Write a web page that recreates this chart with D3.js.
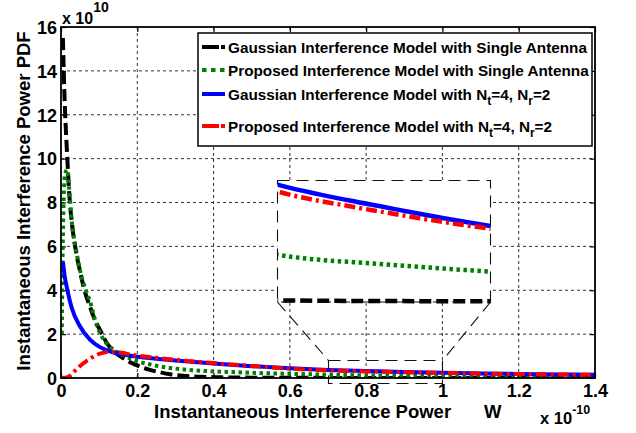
<!DOCTYPE html>
<html>
<head>
<meta charset="utf-8">
<script src="https://cdn.jsdelivr.net/npm/d3@7"></script>
<style>
  body { margin: 0; background: #fff; }
  text { font-family: "Liberation Sans", Arial, sans-serif; font-weight: bold; fill: #000; }
</style>
</head>
<body>
<svg id="chart" width="636" height="433"></svg>
<script>
// x values are in units of 1e-10 W, y values in units of 1e10
const xTicks = [0, 0.2, 0.4, 0.6, 0.8, 1, 1.2, 1.4];
const xTickLabels = ['0', '0.2', '0.4', '0.6', '0.8', '1', '1.2', '1.4'];
const yTicks = [0, 2, 4, 6, 8, 10, 12, 14, 16];
const yTickLabels = ['0', '2', '4', '6', '8', '10', '12', '14', '16'];

// Gaussian interference model, single antenna
const gaussSingleX = [0.005, 0.008, 0.012, 0.016, 0.022, 0.029, 0.04, 0.05, 0.065, 0.076, 0.09, 0.102, 0.115, 0.128, 0.155, 0.18, 0.21, 0.233, 0.26, 0.286, 0.32, 0.36, 0.42, 0.5, 0.6, 0.7, 0.85, 1.0, 1.2, 1.4];
const gaussSingleY = [15.5, 13.5, 11.6, 10.2, 8.3, 7.0, 5.7, 4.85, 3.8, 3.25, 2.6, 2.2, 1.75, 1.4, 1.0, 0.73, 0.5, 0.37, 0.26, 0.17, 0.1, 0.06, 0.03, 0.015, 0.008, 0.005, 0.003, 0.002, 0.001, 0.001];

// Proposed interference model, single antenna
const propSingleX = [0.002, 0.005, 0.01, 0.016, 0.021, 0.029, 0.04, 0.05, 0.065, 0.076, 0.09, 0.11, 0.13, 0.155, 0.18, 0.2, 0.233, 0.286, 0.35, 0.45, 0.55, 0.63, 0.7, 0.85, 1.0, 1.2, 1.4];
const propSingleY = [2.0, 6.5, 9.2, 9.5, 8.7, 7.0, 5.8, 4.9, 4.0, 3.5, 2.6, 1.8, 1.4, 1.1, 0.9, 0.77, 0.62, 0.46, 0.35, 0.27, 0.21, 0.18, 0.148, 0.118, 0.095, 0.07, 0.055];

// Gaussian interference model, Nt=4, Nr=2
const gaussMimoX = [0.005, 0.01, 0.015, 0.028, 0.05, 0.076, 0.1, 0.128, 0.16, 0.2, 0.25, 0.3, 0.35, 0.4, 0.5, 0.6, 0.7, 0.8, 0.85, 0.9, 1.0, 1.1, 1.2, 1.3, 1.4];
const gaussMimoY = [5.3, 4.6, 4.15, 3.2, 2.35, 1.75, 1.43, 1.22, 1.08, 0.97, 0.88, 0.8, 0.73, 0.66, 0.54, 0.44, 0.367, 0.318, 0.297, 0.276, 0.238, 0.21, 0.185, 0.165, 0.15];

// Proposed interference model, Nt=4, Nr=2
const propMimoX = [0, 0.015, 0.025, 0.035, 0.05, 0.065, 0.08, 0.1, 0.12, 0.14, 0.16, 0.18, 0.2, 0.25, 0.3, 0.35, 0.4, 0.5, 0.6, 0.7, 0.8, 0.85, 0.9, 1.0, 1.1, 1.2, 1.3, 1.4];
const propMimoY = [0, 0.02, 0.12, 0.3, 0.55, 0.75, 0.92, 1.1, 1.18, 1.2, 1.15, 1.08, 1.02, 0.92, 0.83, 0.75, 0.68, 0.55, 0.43, 0.346, 0.3, 0.281, 0.262, 0.229, 0.2, 0.18, 0.16, 0.145];

const legendLabels = [
    'Gaussian Interference Model with Single Antenna',
    'Proposed Interference Model with Single Antenna',
    'Gaussian Interference Model with N_t=4, N_r=2',
    'Proposed Interference Model with N_t=4, N_r=2'
];

// Zoomed window shown in the inset
const zoomX = [0.7, 1.0];
const zoomY = [-0.22, 0.82];
const insetY = [0, 0.38];

const series = [
    { xs: gaussSingleX, ys: gaussSingleY, color: '#000000', dash: '12,5', legendDash: '17,2' },
    { xs: propSingleX, ys: propSingleY, color: '#007f00', dash: '3.5,3.5', legendDash: '4.5,4.5' },
    { xs: gaussMimoX, ys: gaussMimoY, color: '#0000ff', dash: null, legendDash: null },
    { xs: propMimoX, ys: propMimoY, color: '#ff0000', dash: '11,4,3,4', legendDash: '17,2' }
];

const svg = d3.select('#chart');
const plotLeft = 61, plotRight = 595, plotTop = 27, plotBottom = 378;

const x = d3.scaleLinear().domain([0, 1.4]).range([plotLeft, plotRight]);
const y = d3.scaleLinear().domain([0, 16]).range([plotBottom, plotTop]);

// Grid lines
const grid = svg.append('g')
    .attr('stroke', '#333')
    .attr('stroke-width', 1)
    .attr('stroke-dasharray', '3,3');
grid.selectAll('.gx').data(xTicks.slice(1, -1)).join('line')
    .attr('x1', d => x(d)).attr('x2', d => x(d))
    .attr('y1', plotTop).attr('y2', plotBottom);
grid.selectAll('.gy').data(yTicks.slice(1, -1)).join('line')
    .attr('x1', plotLeft).attr('x2', plotRight)
    .attr('y1', d => y(d)).attr('y2', d => y(d));

// Axes with inward ticks on all four sides
const tickLen = 5;
const axisBottom = svg.append('g').attr('transform', `translate(0,${plotBottom})`)
    .call(d3.axisBottom(x).tickValues(xTicks).tickSizeInner(-tickLen).tickSizeOuter(0)
        .tickFormat((d, i) => xTickLabels[i]));
const axisTop = svg.append('g').attr('transform', `translate(0,${plotTop})`)
    .call(d3.axisTop(x).tickValues(xTicks).tickSizeInner(-tickLen).tickSizeOuter(0).tickFormat(''));
const axisLeft = svg.append('g').attr('transform', `translate(${plotLeft},0)`)
    .call(d3.axisLeft(y).tickValues(yTicks).tickSizeInner(-tickLen).tickSizeOuter(0)
        .tickFormat((d, i) => yTickLabels[i]));
const axisRight = svg.append('g').attr('transform', `translate(${plotRight},0)`)
    .call(d3.axisRight(y).tickValues(yTicks).tickSizeInner(-tickLen).tickSizeOuter(0).tickFormat(''));

[axisBottom, axisTop, axisLeft, axisRight].forEach(a => {
    a.attr('font-family', null).attr('font-size', null);
    a.select('.domain').remove();
    a.selectAll('line').attr('stroke', '#000').attr('stroke-width', 1.2);
});
axisBottom.selectAll('text')
    .attr('font-size', 18).attr('dy', null)
    .attr('y', 19);
axisLeft.selectAll('text')
    .attr('font-size', 18).attr('dy', '0.35em')
    .attr('x', -4);

// Clip for main curves
svg.append('clipPath').attr('id', 'plotClip')
    .append('rect').attr('x', plotLeft).attr('y', plotTop)
    .attr('width', plotRight - plotLeft).attr('height', plotBottom - plotTop);

function drawSeries(g, sx, sy, width) {
    const line = d3.line()
        .x(d => sx(d[0]))
        .y(d => sy(d[1]))
        .curve(d3.curveMonotoneX);
    series.forEach(s => {
        const pts = s.xs.map((v, i) => [v, s.ys[i]]);
        g.append('path')
            .attr('d', line(pts))
            .attr('fill', 'none')
            .attr('stroke', s.color)
            .attr('stroke-width', width)
            .attr('stroke-dasharray', s.dash);
    });
}

const curves = svg.append('g').attr('clip-path', 'url(#plotClip)');
drawSeries(curves, x, y, 4);

// Zoom source rectangle and connectors
const insetBox = { x0: 277.5, x1: 490.5, y0: 180.5, y1: 302 };
const zoomRect = {
    x0: Math.round(x(zoomX[0])) + 0.5, x1: Math.round(x(zoomX[1])) + 0.5,
    y0: Math.round(y(zoomY[1])) + 0.5, y1: Math.round(y(zoomY[0])) + 0.5
};
const zoomStyle = g => g.attr('fill', 'none').attr('stroke', '#111')
    .attr('stroke-width', 1.1).attr('stroke-dasharray', '12,7');

svg.append('rect')
    .attr('x', zoomRect.x0).attr('y', zoomRect.y0)
    .attr('width', zoomRect.x1 - zoomRect.x0).attr('height', zoomRect.y1 - zoomRect.y0)
    .call(zoomStyle);
svg.append('line')
    .attr('x1', insetBox.x0).attr('y1', insetBox.y1)
    .attr('x2', zoomRect.x0).attr('y2', zoomRect.y0)
    .call(zoomStyle);
svg.append('line')
    .attr('x1', insetBox.x1).attr('y1', insetBox.y1)
    .attr('x2', zoomRect.x1).attr('y2', zoomRect.y0)
    .call(zoomStyle);

// Inset: magnified view of the tails
svg.append('rect')
    .attr('x', insetBox.x0).attr('y', insetBox.y0)
    .attr('width', insetBox.x1 - insetBox.x0).attr('height', insetBox.y1 - insetBox.y0)
    .attr('fill', '#fff');
svg.append('clipPath').attr('id', 'insetClip')
    .append('rect').attr('x', insetBox.x0).attr('y', insetBox.y0 - 3)
    .attr('width', insetBox.x1 - insetBox.x0).attr('height', insetBox.y1 - insetBox.y0 + 6);

const ix = d3.scaleLinear().domain(zoomX).range([insetBox.x0, insetBox.x1]);
const iy = d3.scaleLinear().domain(insetY).range([insetBox.y1, insetBox.y0]);
const insetCurves = svg.append('g').attr('clip-path', 'url(#insetClip)');
drawSeries(insetCurves, ix, iy, 4.5);

svg.append('rect')
    .attr('x', insetBox.x0).attr('y', insetBox.y0)
    .attr('width', insetBox.x1 - insetBox.x0).attr('height', insetBox.y1 - insetBox.y0)
    .call(zoomStyle);

// Plot frame
svg.append('rect')
    .attr('x', plotLeft).attr('y', plotTop)
    .attr('width', plotRight - plotLeft).attr('height', plotBottom - plotTop)
    .attr('fill', 'none').attr('stroke', '#000').attr('stroke-width', 1.8);

// Legend
const legend = svg.append('g');
legend.append('rect')
    .attr('x', 198).attr('y', 33).attr('width', 394).attr('height', 113)
    .attr('fill', '#fff').attr('stroke', '#000').attr('stroke-width', 1.5);
const legendRows = [47, 70, 94, 126];
legendLabels.forEach((label, i) => {
    const s = series[i];
    const ly = legendRows[i];
    legend.append('line')
        .attr('x1', 202).attr('x2', 225).attr('y1', ly).attr('y2', ly)
        .attr('stroke', s.color).attr('stroke-width', 4)
        .attr('stroke-dasharray', s.legendDash);
    const t = legend.append('text')
        .attr('x', 228).attr('y', ly + 5.5)
        .attr('font-size', 15.3);
    // "_t" and "_r" mark subscripts
    const parts = label.split(/_(\w)/);
    parts.forEach((p, k) => {
        if (k % 2 === 0) {
            t.append('tspan').attr('dy', k === 0 ? 0 : -5).text(p);
        } else {
            t.append('tspan').attr('dy', 5).attr('font-size', 12).text(p);
        }
    });
});

// Axis labels
svg.append('text')
    .attr('transform', 'translate(30,201) rotate(-90)')
    .attr('text-anchor', 'middle')
    .attr('font-size', 18.5)
    .text('Instantaneous Interference Power PDF');

const xl = svg.append('text')
    .attr('x', 154).attr('y', 418)
    .attr('font-size', 18.5);
xl.append('tspan').text('Instantaneous Interference Power');
xl.append('tspan').attr('x', 484).text('W');

// Exponent labels
const expTop = svg.append('text').attr('x', 62).attr('y', 24).attr('font-size', 16);
expTop.append('tspan').text('x 10');
expTop.append('tspan').attr('dy', -12).attr('font-size', 14).text('10');

const expBottom = svg.append('text').attr('x', 540).attr('y', 424).attr('font-size', 16.5);
expBottom.append('tspan').text('x 10');
expBottom.append('tspan').attr('dy', -10).attr('font-size', 12.5).text('-10');
</script>
</body>
</html>
